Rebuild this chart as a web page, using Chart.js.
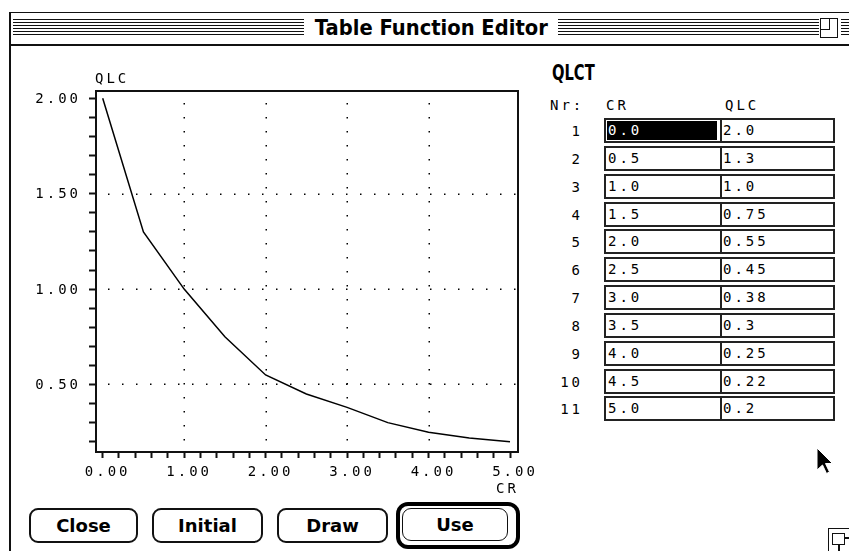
<!DOCTYPE html>
<html>
<head>
<meta charset="utf-8">
<script src="https://cdn.jsdelivr.net/npm/chart.js@4"></script>
<style>
  html, body { margin: 0; padding: 0; background: #fff; }
  body { width: 849px; height: 551px; position: relative; overflow: hidden; }
  .abs { position: absolute; }
  .mono { font-family: "DejaVu Sans Mono", monospace; font-size: 14px; letter-spacing: 3px; color: #000; }
  .bold { font-family: "DejaVu Sans", sans-serif; font-weight: bold; color: #000; }
  .stripes { background: repeating-linear-gradient(to bottom, #111 0px, #111 1.5px, #fff 1.5px, #fff 3px); }
  .btn { position: absolute; top: 508px; height: 31px; border: 2px solid #111; border-radius: 9px;
         background: #fff; display: flex; align-items: center; justify-content: center; font-size: 18px; }
  .row { position: absolute; left: 604px; width: 227px; height: 21px; border: 2px solid #222; display: flex; }
  .c1 { width: 114px; border-right: 2px solid #222; position: relative; }
  .c2 { flex: 1; position: relative; }
  .cell-text { position: absolute; top: 2px; left: 2px; line-height: 16px; }
  .sel { position: absolute; left: 1px; top: 1px; width: 110px; height: 19px; background: #000; }
  .num { position: absolute; left: 540px; width: 43px; text-align: right; line-height: 16px; }
</style>
</head>
<body>
<!-- window frame -->
<div class="abs" style="left:9px;top:12px;width:840px;height:1px;background:#111"></div>
<div class="abs" style="left:9px;top:12px;width:2px;height:539px;background:#111"></div>
<div class="abs" style="left:9px;top:44px;width:840px;height:2px;background:#111"></div>
<div class="abs stripes" style="left:13px;top:19px;width:291px;height:18px"></div>
<div class="abs stripes" style="left:558px;top:19px;width:261px;height:18px"></div>
<div class="abs stripes" style="left:841px;top:19px;width:8px;height:18px"></div>
<div class="abs" style="left:820px;top:18px;width:16px;height:18px;border:1.5px solid #111"></div>
<div class="abs" style="left:820px;top:18px;width:9px;height:11px;border-right:1.5px solid #111;border-bottom:1.5px solid #111"></div>
<div class="abs bold" style="left:304px;top:14px;width:254px;text-align:center;font-size:21px;line-height:28px">
  <span style="display:inline-block;transform:scaleX(0.93)">Table Function Editor</span>
</div>

<canvas id="grafico" class="abs" style="left:0;top:0" width="540" height="500"></canvas>

<!-- table -->
<div class="abs bold" style="left:552px;top:59px;font-size:21px;line-height:28px">
  <span style="display:inline-block;transform:scaleX(0.7);transform-origin:left">QLCT</span>
</div>
<div class="abs mono" style="left:550px;top:97px;line-height:16px">Nr:</div>
<div class="abs mono" style="left:606px;top:97px;line-height:16px">CR</div>
<div class="abs mono" style="left:725px;top:97px;line-height:16px">QLC</div>
<div id="tabela"></div>

<!-- buttons -->
<div class="btn bold" style="left:29px;width:105px">Close</div>
<div class="btn bold" style="left:152px;width:107px">Initial</div>
<div class="btn bold" style="left:277px;width:107px">Draw</div>
<div class="abs" style="left:396px;top:502px;width:116px;height:39px;border:4px solid #000;border-radius:12px"></div>
<div class="btn bold" style="left:402px;width:104px;height:31px;border-width:1.5px;top:508px">Use</div>

<!-- cursor and size box -->
<svg class="abs" style="left:815px;top:447px" width="20" height="28" viewBox="0 0 20 28">
  <polygon points="2,1 2,23 7.5,18 11.5,26.5 14.5,25 10.5,16.5 17.5,16.5" fill="#000" stroke="#fff" stroke-width="1"/>
</svg>
<div class="abs" style="left:828px;top:528px;width:24px;height:26px;border:1.5px solid #111;border-right:none;border-bottom:none"></div>
<div class="abs" style="left:832px;top:533px;width:11px;height:10px;border:1.5px solid #111"></div>
<div class="abs" style="left:838px;top:545px;width:1.5px;height:6px;background:#111"></div>
<div class="abs" style="left:845px;top:537px;width:6px;height:1.5px;background:#111"></div>

<script>
// dados da tabela QLCT
const crValues  = [0.0, 0.5, 1.0, 1.5, 2.0, 2.5, 3.0, 3.5, 4.0, 4.5, 5.0];
const qlcValues = [2.0, 1.3, 1.0, 0.75, 0.55, 0.45, 0.38, 0.3, 0.25, 0.22, 0.2];

// marcas dos eixos
const xTicks      = [0, 0.2, 0.4, 0.6, 0.8, 1, 1.2, 1.4, 1.6, 1.8, 2, 2.2, 2.4, 2.6, 2.8, 3, 3.2, 3.4, 3.6, 3.8, 4, 4.2, 4.4, 4.6, 4.8, 5];
const xLabelTicks = [0, 1, 2, 3, 4, 5];
const xGridLines  = [1, 2, 3, 4];
const yTicks      = [0.2, 0.3, 0.4, 0.5, 0.6, 0.7, 0.8, 0.9, 1.0, 1.1, 1.2, 1.3, 1.4, 1.5, 1.6, 1.7, 1.8, 1.9, 2.0];
const yLabelTicks = [0.5, 1.0, 1.5, 2.0];
const yGridLines  = [0.5, 1.0, 1.5];

// monta as linhas da tabela à direita
const fmtQ = v => Number.isInteger(v) ? v.toFixed(1) : String(v);
let html = '';
crValues.forEach((cr, i) => {
  const top = 118 + i * 27.84;
  html += '<div class="num mono" style="top:' + (top + 5) + 'px">' + (i + 1) + '</div>';
  html += '<div class="row" style="top:' + top + 'px">' +
    '<div class="c1">' + (i === 0 ? '<div class="sel"></div>' : '') +
    '<span class="cell-text mono"' + (i === 0 ? ' style="color:#fff"' : '') + '>' + cr.toFixed(1) + '</span></div>' +
    '<div class="c2"><span class="cell-text mono" style="left:1px">' + fmtQ(qlcValues[i]) + '</span></div></div>';
});
document.getElementById('tabela').innerHTML = html;

const near = (arr, v) => arr.some(a => Math.abs(a - v) < 1e-6);

// plugin: espaçamento das letras, grade pontilhada, moldura e títulos
const macPlugin = {
  id: 'mac',
  beforeDraw(chart) {
    chart.ctx.letterSpacing = '3px';
  },
  beforeDatasetsDraw(chart) {
    const { ctx, chartArea: a, scales } = chart;
    ctx.save();
    ctx.strokeStyle = '#000';
    ctx.lineWidth = 1.5;
    ctx.setLineDash([1.5, 12.5]);
    xGridLines.forEach(v => {
      const px = Math.round(scales.x.getPixelForValue(v)) + 0.25;
      ctx.beginPath(); ctx.moveTo(px, a.top + 12); ctx.lineTo(px, a.bottom); ctx.stroke();
    });
    yGridLines.forEach(v => {
      const py = Math.round(scales.y.getPixelForValue(v)) + 0.25;
      ctx.beginPath(); ctx.moveTo(a.left + 12, py); ctx.lineTo(a.right, py); ctx.stroke();
    });
    ctx.restore();
  },
  afterDraw(chart) {
    const { ctx, chartArea: a } = chart;
    ctx.save();
    ctx.setLineDash([]);
    ctx.strokeStyle = '#111';
    ctx.lineWidth = 2;
    ctx.strokeRect(a.left, a.top, a.right - a.left, a.bottom - a.top);
    ctx.fillStyle = '#000';
    ctx.font = '14px "DejaVu Sans Mono"';
    ctx.letterSpacing = '3px';
    ctx.textBaseline = 'alphabetic';
    ctx.textAlign = 'left';
    ctx.fillText('QLC', a.left - 1, a.top - 8);
    ctx.fillText('CR', a.right - 22, a.bottom + 41);
    ctx.restore();
  }
};

const config = {
  type: 'line',
  data: {
    datasets: [{
      label: 'QLCT',
      data: crValues.map((x, i) => ({ x: x, y: qlcValues[i] })),
      borderColor: '#000',
      borderWidth: 1.5,
      pointRadius: 0,
      tension: 0,
      fill: false
    }]
  },
  options: {
    responsive: false,
    animation: false,
    events: [],
    layout: { padding: { left: 0, top: 91, right: 22, bottom: 0 } },
    plugins: { legend: { display: false }, tooltip: { enabled: false }, title: { display: false } },
    scales: {
      x: {
        type: 'linear',
        min: -0.0822,
        max: 5.0982,
        afterFit: s => { s.height = 48; },
        afterBuildTicks: s => { s.ticks = xTicks.map(v => ({ value: v })); },
        border: { display: false },
        grid: { drawOnChartArea: false, drawTicks: true, tickLength: 6, tickWidth: 2, tickColor: '#111' },
        ticks: {
          autoSkip: false, maxRotation: 0, padding: 6, labelOffset: 5, color: '#000',
          font: { family: 'DejaVu Sans Mono', size: 14 },
          callback: v => near(xLabelTicks, v) ? v.toFixed(2) : ''
        }
      },
      y: {
        type: 'linear',
        min: 0.146,
        max: 2.0383,
        afterFit: s => { s.width = 96; },
        afterBuildTicks: s => { s.ticks = yTicks.map(v => ({ value: v })); },
        border: { display: false },
        grid: { drawOnChartArea: false, drawTicks: true, tickLength: 7, tickWidth: 2, tickColor: '#111' },
        ticks: {
          autoSkip: false, padding: 8, labelOffset: 1, color: '#000',
          font: { family: 'DejaVu Sans Mono', size: 14 },
          callback: v => near(yLabelTicks, v) ? v.toFixed(2) : ''
        }
      }
    }
  },
  plugins: [macPlugin]
};

const grafico = new Chart(document.getElementById('grafico'), config);
</script>
</body>
</html>
